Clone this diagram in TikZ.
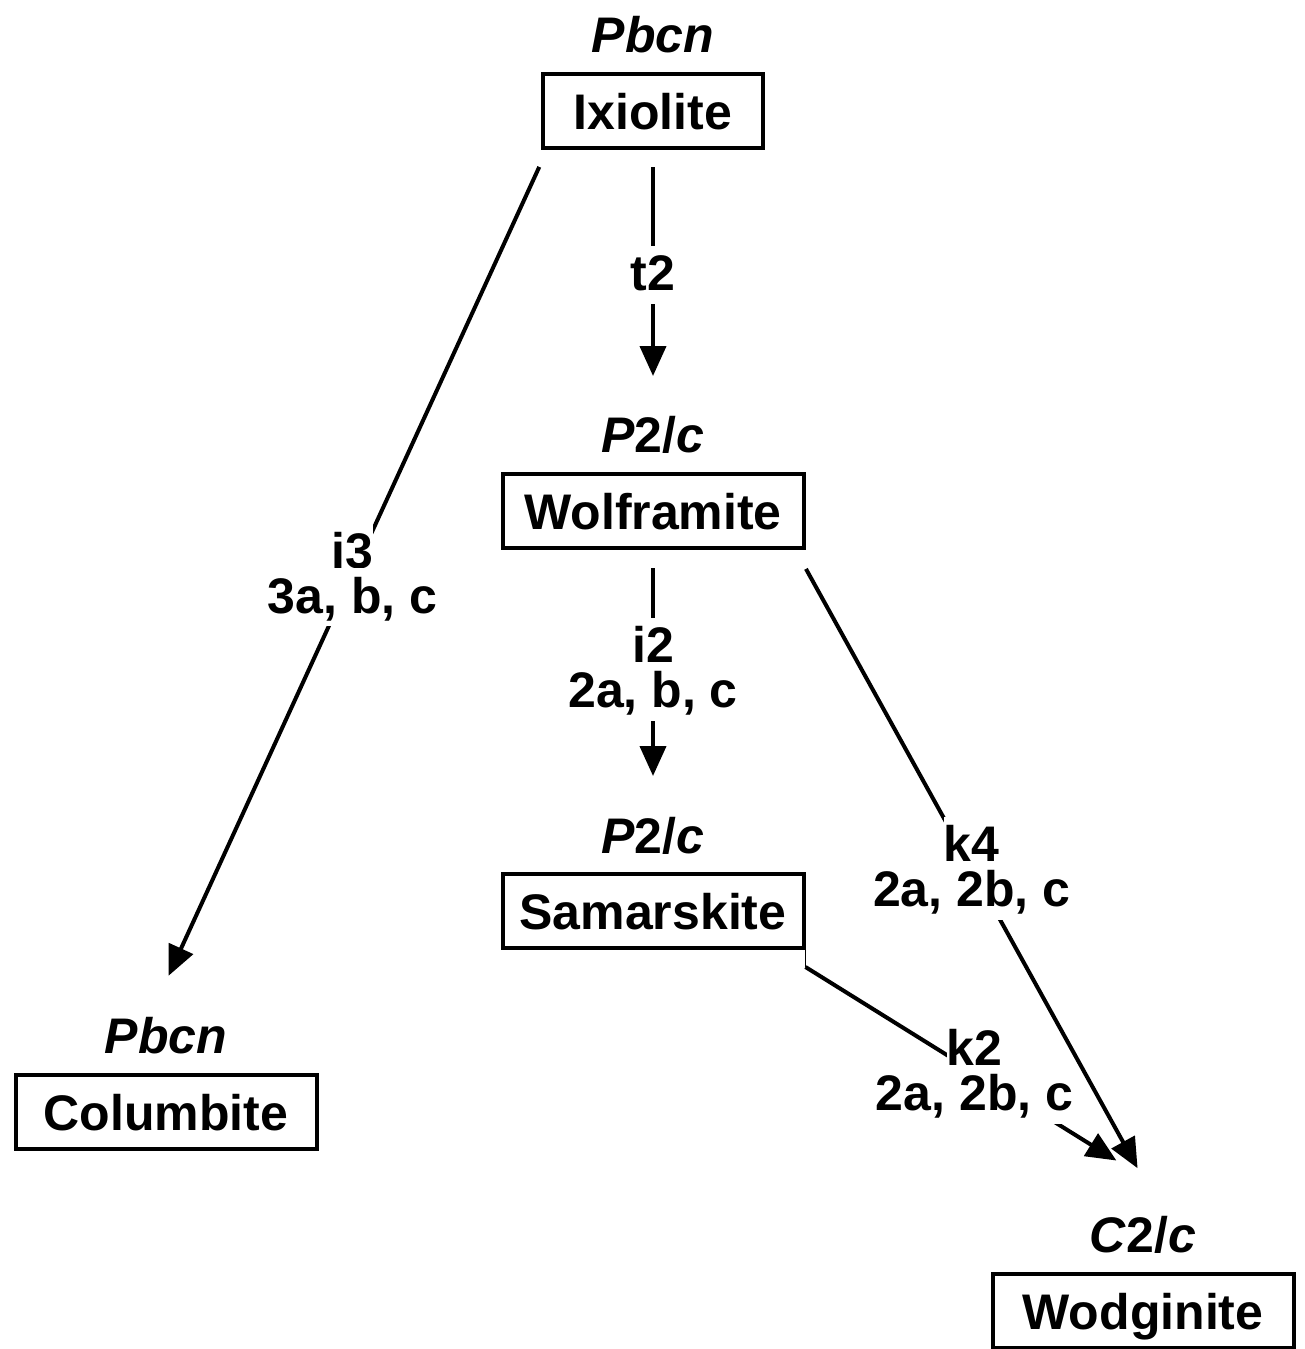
\documentclass[tikz,border=0pt]{standalone}
\usepackage{fontspec}
\setmainfont{Liberation Sans}
\usetikzlibrary{arrows.meta}
\newcommand{\lblfont}{\bfseries\fontsize{25}{22.5}\selectfont\lineskiplimit=-30pt}
\newcommand{\wbox}[2][0pt]{{\fboxsep=0pt\colorbox{white}{\rule[-#1]{0pt}{\dimexpr22.5pt+#1\relax}#2}}}

\begin{document}
\begin{tikzpicture}[x=0.5pt,y=-0.5pt,
    mineral/.style={draw,line width=2pt,minimum width=150.5pt,minimum height=37pt,
      inner sep=0pt,text depth=0pt,font=\bfseries\fontsize{25}{30}\selectfont},
    sg/.style={anchor=base,inner sep=0pt,font=\bfseries\itshape\fontsize{25}{30}\selectfont},
    arr/.style={-{Triangle[length=15pt,width=13pt]},line width=2pt},
    lbl/.style={inner sep=0pt,align=center,font=\lblfont}]
  \useasboundingbox (0,0) rectangle (1305,1349);
  \node[mineral,minimum width=110pt] (ixi) at (653,111) {Ixiolite};
  \node[sg] (ixi-sg) at (653,52) {Pbcn};
  \node[mineral] (wol) at (653,511) {Wolframite};
  \node[sg] (wol-sg) at (653,452) {P\textup{2/}c};
  \node[mineral] (sam) at (653,911) {Samarskite};
  \node[sg] (sam-sg) at (653,853) {P\textup{2/}c};
  \node[mineral] (col) at (166,1112) {Columbite};
  \node[sg] (col-sg) at (166,1053) {Pbcn};
  \node[mineral] (wod) at (1143,1311) {Wodginite};
  \node[sg] (wod-sg) at (1143,1252) {C\textup{2/}c};
  \path[arr] (ixi) edge[shorten <=8.5pt,shorten >=48pt] node[lbl,pos=0.387] {\wbox[6.5pt]{t2}} (wol);
  \path[arr] ([xshift=3pt]ixi.south west) edge[shorten <=9.3pt,shorten >=53.5pt]
    node[lbl,pos=0.46] {\wbox{i3}\\\wbox[6.5pt]{3a, b, c}} ([xshift=-21pt]col.north);
  \path[arr] (wol) edge[shorten <=9pt,shorten >=48pt]
    node[lbl,pos=0.37] {\wbox{i2}\\\wbox[6.5pt]{2a, b, c}} (sam);
  \path[arr] ([xshift=-5pt]wol.south east) edge[shorten <=10.8pt,shorten >=59.3pt]
    node[lbl,pos=0.441] {\wbox{k4}\\\wbox[6.5pt]{2a, 2b, c}} ([xshift=26pt]wod.north);
  \draw[line width=0.6pt] (sam.south east) -- ++(0,-8.5pt) coordinate (k2-start);
  \path[arr] (k2-start) edge[shorten >=105.5pt]
    node[lbl,pos=0.345] {\wbox{k2}\\\wbox[6.5pt]{2a, 2b, c}} (wod.north east);
\end{tikzpicture}
\end{document}
